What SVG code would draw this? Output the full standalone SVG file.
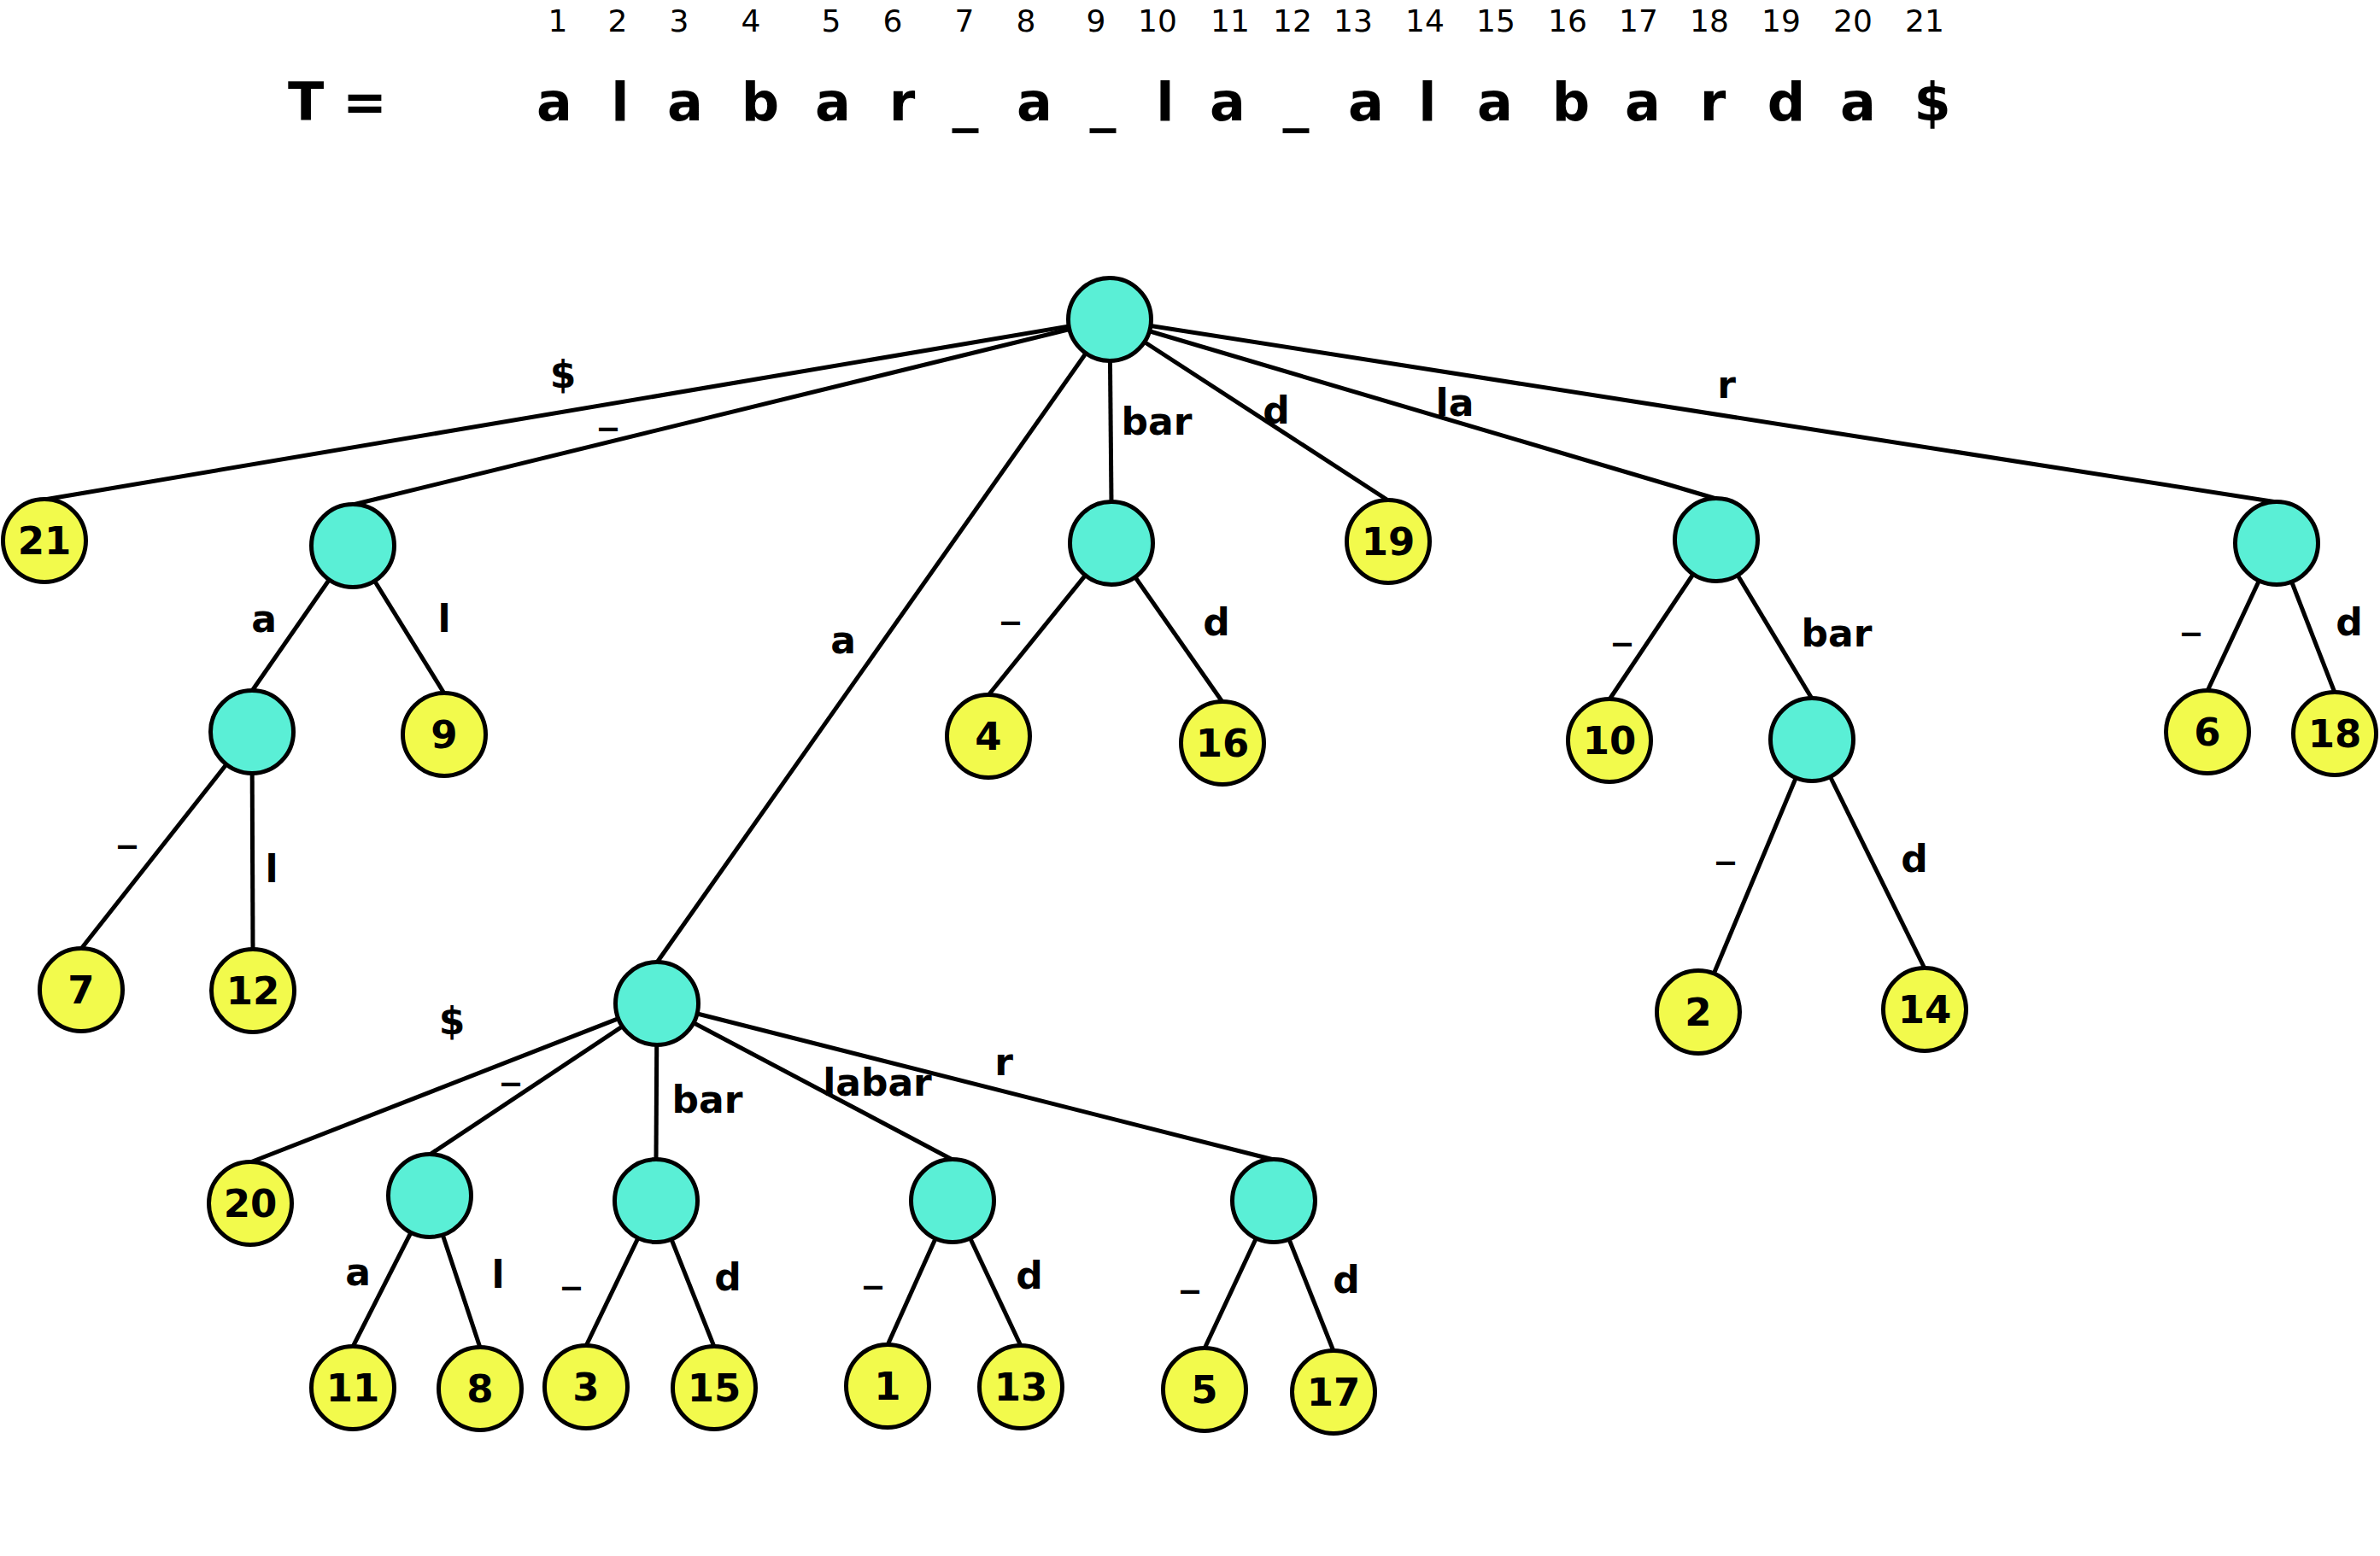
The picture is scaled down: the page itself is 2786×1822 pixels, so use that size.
<svg xmlns="http://www.w3.org/2000/svg" width="2786" height="1822" viewBox="0 0 2786 1822">
<style>
.bg{fill:#ffffff}
.num{font-family:"DejaVu Sans",sans-serif;font-size:36px;fill:#000;text-anchor:middle}
.chr{font-family:"DejaVu Sans",sans-serif;font-size:62px;font-weight:bold;fill:#000;text-anchor:middle}
.lbl{font-family:"DejaVu Sans",sans-serif;font-size:44px;font-weight:bold;fill:#000;text-anchor:middle}
.edge{stroke:#000;stroke-width:5;fill:none}
.int{fill:#5AEFD6;stroke:#000;stroke-width:5}
.leaf{fill:#F2FA4C;stroke:#000;stroke-width:5}
.nl{font-family:"DejaVu Sans",sans-serif;font-size:45px;font-weight:bold;fill:#000;text-anchor:middle}
</style>
<rect class="bg" x="0" y="0" width="2786" height="1822"/>
<g id="header">
<text class="num" x="653" y="37">1</text>
<text class="num" x="723" y="37">2</text>
<text class="num" x="795" y="37">3</text>
<text class="num" x="879" y="37">4</text>
<text class="num" x="973" y="37">5</text>
<text class="num" x="1045" y="37">6</text>
<text class="num" x="1129" y="37">7</text>
<text class="num" x="1201" y="37">8</text>
<text class="num" x="1283" y="37">9</text>
<text class="num" x="1355" y="37">10</text>
<text class="num" x="1440" y="37">11</text>
<text class="num" x="1513" y="37">12</text>
<text class="num" x="1584" y="37">13</text>
<text class="num" x="1668" y="37">14</text>
<text class="num" x="1751" y="37">15</text>
<text class="num" x="1835" y="37">16</text>
<text class="num" x="1918" y="37">17</text>
<text class="num" x="2001" y="37">18</text>
<text class="num" x="2085" y="37">19</text>
<text class="num" x="2169" y="37">20</text>
<text class="num" x="2253" y="37">21</text>
<text class="chr" x="337" y="141" style="text-anchor:start">T =</text>
<text class="chr" x="649" y="141">a</text>
<text class="chr" x="726" y="141">l</text>
<text class="chr" x="802" y="141">a</text>
<text class="chr" x="890" y="141">b</text>
<text class="chr" x="975" y="141">a</text>
<text class="chr" x="1056" y="141">r</text>
<text class="chr" x="1130" y="141">_</text>
<text class="chr" x="1211" y="141">a</text>
<text class="chr" x="1291" y="141">_</text>
<text class="chr" x="1364" y="141">l</text>
<text class="chr" x="1437" y="141">a</text>
<text class="chr" x="1517" y="141">_</text>
<text class="chr" x="1599" y="141">a</text>
<text class="chr" x="1671" y="141">l</text>
<text class="chr" x="1750" y="141">a</text>
<text class="chr" x="1839" y="141">b</text>
<text class="chr" x="1923" y="141">a</text>
<text class="chr" x="2005" y="141">r</text>
<text class="chr" x="2091" y="141">d</text>
<text class="chr" x="2175" y="141">a</text>
<text class="chr" x="2262" y="141">$</text>
</g>
<g id="connectors">
<line class="edge" x1="1299" y1="374" x2="52" y2="585"/>
<line class="edge" x1="1299" y1="374" x2="413" y2="591"/>
<line class="edge" x1="1299" y1="374" x2="769" y2="1127"/>
<line class="edge" x1="1299" y1="374" x2="1301" y2="588"/>
<line class="edge" x1="1299" y1="374" x2="1625" y2="586"/>
<line class="edge" x1="1299" y1="374" x2="2009" y2="584"/>
<line class="edge" x1="1299" y1="374" x2="2665" y2="588"/>
<line class="edge" x1="413" y1="639" x2="295" y2="809"/>
<line class="edge" x1="413" y1="639" x2="520" y2="812"/>
<line class="edge" x1="295" y1="857" x2="95" y2="1111"/>
<line class="edge" x1="295" y1="857" x2="296" y2="1112"/>
<line class="edge" x1="1301" y1="636" x2="1157" y2="814"/>
<line class="edge" x1="1301" y1="636" x2="1431" y2="822"/>
<line class="edge" x1="2009" y1="632" x2="1884" y2="819"/>
<line class="edge" x1="2009" y1="632" x2="2121" y2="818"/>
<line class="edge" x1="2121" y1="866" x2="2005" y2="1143"/>
<line class="edge" x1="2121" y1="866" x2="2253" y2="1134"/>
<line class="edge" x1="2665" y1="636" x2="2584" y2="809"/>
<line class="edge" x1="2665" y1="636" x2="2733" y2="811"/>
<line class="edge" x1="769" y1="1175" x2="293" y2="1361"/>
<line class="edge" x1="769" y1="1175" x2="503" y2="1352"/>
<line class="edge" x1="769" y1="1175" x2="768" y2="1358"/>
<line class="edge" x1="769" y1="1175" x2="1115" y2="1358"/>
<line class="edge" x1="769" y1="1175" x2="1491" y2="1358"/>
<line class="edge" x1="503" y1="1400" x2="413" y2="1577"/>
<line class="edge" x1="503" y1="1400" x2="562" y2="1578"/>
<line class="edge" x1="768" y1="1406" x2="686" y2="1576"/>
<line class="edge" x1="768" y1="1406" x2="836" y2="1577"/>
<line class="edge" x1="1115" y1="1406" x2="1039" y2="1575"/>
<line class="edge" x1="1115" y1="1406" x2="1195" y2="1576"/>
<line class="edge" x1="1491" y1="1406" x2="1410" y2="1579"/>
<line class="edge" x1="1491" y1="1406" x2="1561" y2="1582"/>
<text class="lbl" x="659" y="454">$</text>
<text class="lbl" x="712" y="494">_</text>
<text class="lbl" x="987" y="765">a</text>
<text class="lbl" x="1354" y="509">bar</text>
<text class="lbl" x="1494" y="496">d</text>
<text class="lbl" x="1703" y="487">la</text>
<text class="lbl" x="2021" y="466">r</text>
<text class="lbl" x="309" y="740">a</text>
<text class="lbl" x="520" y="740">l</text>
<text class="lbl" x="149" y="983">_</text>
<text class="lbl" x="318" y="1033">l</text>
<text class="lbl" x="1183" y="721">_</text>
<text class="lbl" x="1424" y="744">d</text>
<text class="lbl" x="1899" y="746">_</text>
<text class="lbl" x="2150" y="757">bar</text>
<text class="lbl" x="2020" y="1002">_</text>
<text class="lbl" x="2241" y="1021">d</text>
<text class="lbl" x="2565" y="734">_</text>
<text class="lbl" x="2750" y="744">d</text>
<text class="lbl" x="529" y="1211">$</text>
<text class="lbl" x="598" y="1261">_</text>
<text class="lbl" x="828" y="1303">bar</text>
<text class="lbl" x="1027" y="1283">labar</text>
<text class="lbl" x="1175" y="1259">r</text>
<text class="lbl" x="419" y="1505">a</text>
<text class="lbl" x="583" y="1508">l</text>
<text class="lbl" x="669" y="1500">_</text>
<text class="lbl" x="852" y="1511">d</text>
<text class="lbl" x="1022" y="1499">_</text>
<text class="lbl" x="1205" y="1509">d</text>
<text class="lbl" x="1393" y="1504">_</text>
<text class="lbl" x="1576" y="1514">d</text>
</g>
<g id="n_root"><circle class="int" cx="1299" cy="374" r="48.5"/></g>
<g id="n_us"><circle class="int" cx="413" cy="639" r="48.5"/></g>
<g id="n_us_a"><circle class="int" cx="295" cy="857" r="48.5"/></g>
<g id="n_bar"><circle class="int" cx="1301" cy="636" r="48.5"/></g>
<g id="n_la"><circle class="int" cx="2009" cy="632" r="48.5"/></g>
<g id="n_labar"><circle class="int" cx="2121" cy="866" r="48.5"/></g>
<g id="n_r"><circle class="int" cx="2665" cy="636" r="48.5"/></g>
<g id="n_a"><circle class="int" cx="769" cy="1175" r="48.5"/></g>
<g id="n_a_us"><circle class="int" cx="503" cy="1400" r="48.5"/></g>
<g id="n_abar"><circle class="int" cx="768" cy="1406" r="48.5"/></g>
<g id="n_alabar"><circle class="int" cx="1115" cy="1406" r="48.5"/></g>
<g id="n_ar"><circle class="int" cx="1491" cy="1406" r="48.5"/></g>
<g id="leaf21"><circle class="leaf" cx="52" cy="633" r="48.5"/><text class="nl" x="52" y="649">21</text></g>
<g id="leaf9"><circle class="leaf" cx="520" cy="860" r="48.5"/><text class="nl" x="520" y="876">9</text></g>
<g id="leaf7"><circle class="leaf" cx="95" cy="1159" r="48.5"/><text class="nl" x="95" y="1175">7</text></g>
<g id="leaf12"><circle class="leaf" cx="296" cy="1160" r="48.5"/><text class="nl" x="296" y="1176">12</text></g>
<g id="leaf4"><circle class="leaf" cx="1157" cy="862" r="48.5"/><text class="nl" x="1157" y="878">4</text></g>
<g id="leaf16"><circle class="leaf" cx="1431" cy="870" r="48.5"/><text class="nl" x="1431" y="886">16</text></g>
<g id="leaf19"><circle class="leaf" cx="1625" cy="634" r="48.5"/><text class="nl" x="1625" y="650">19</text></g>
<g id="leaf10"><circle class="leaf" cx="1884" cy="867" r="48.5"/><text class="nl" x="1884" y="883">10</text></g>
<g id="leaf2"><circle class="leaf" cx="1988" cy="1185" r="48.5"/><text class="nl" x="1988" y="1201">2</text></g>
<g id="leaf14"><circle class="leaf" cx="2253" cy="1182" r="48.5"/><text class="nl" x="2253" y="1198">14</text></g>
<g id="leaf6"><circle class="leaf" cx="2584" cy="857" r="48.5"/><text class="nl" x="2584" y="873">6</text></g>
<g id="leaf18"><circle class="leaf" cx="2733" cy="859" r="48.5"/><text class="nl" x="2733" y="875">18</text></g>
<g id="leaf20"><circle class="leaf" cx="293" cy="1409" r="48.5"/><text class="nl" x="293" y="1425">20</text></g>
<g id="leaf11"><circle class="leaf" cx="413" cy="1625" r="48.5"/><text class="nl" x="413" y="1641">11</text></g>
<g id="leaf8"><circle class="leaf" cx="562" cy="1626" r="48.5"/><text class="nl" x="562" y="1642">8</text></g>
<g id="leaf3"><circle class="leaf" cx="686" cy="1624" r="48.5"/><text class="nl" x="686" y="1640">3</text></g>
<g id="leaf15"><circle class="leaf" cx="836" cy="1625" r="48.5"/><text class="nl" x="836" y="1641">15</text></g>
<g id="leaf1"><circle class="leaf" cx="1039" cy="1623" r="48.5"/><text class="nl" x="1039" y="1639">1</text></g>
<g id="leaf13"><circle class="leaf" cx="1195" cy="1624" r="48.5"/><text class="nl" x="1195" y="1640">13</text></g>
<g id="leaf5"><circle class="leaf" cx="1410" cy="1627" r="48.5"/><text class="nl" x="1410" y="1643">5</text></g>
<g id="leaf17"><circle class="leaf" cx="1561" cy="1630" r="48.5"/><text class="nl" x="1561" y="1646">17</text></g>
</svg>
